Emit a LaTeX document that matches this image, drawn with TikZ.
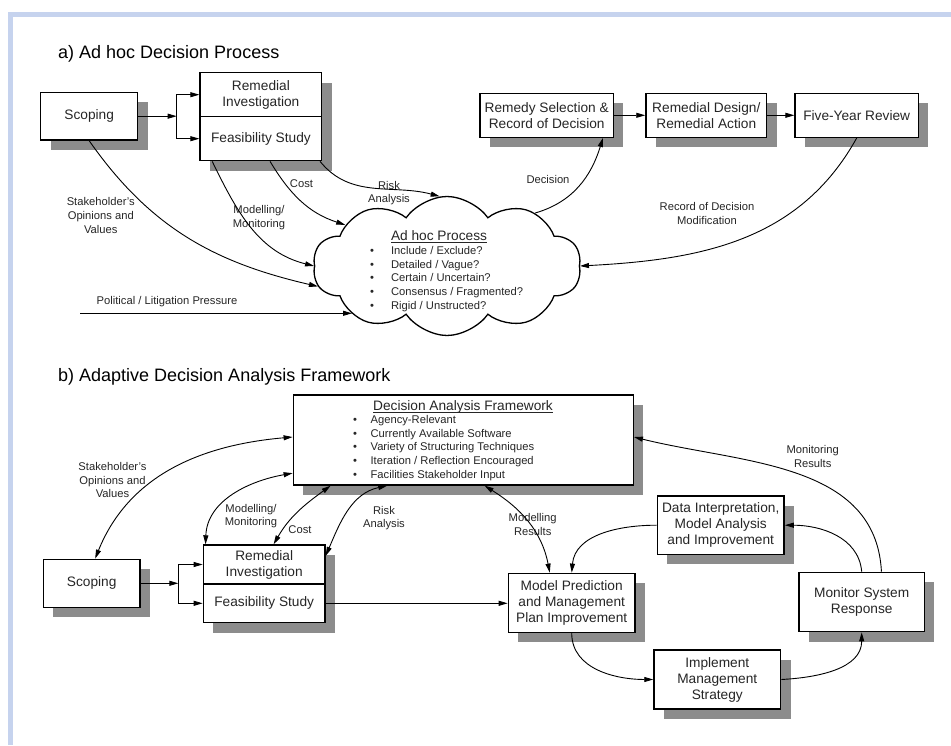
\documentclass[tikz,border=0pt]{standalone}
\usepackage{fontspec}
\setmainfont{Liberation Sans}
\usetikzlibrary{arrows.meta,shapes.symbols,shadows}
\definecolor{frameblue}{RGB}{198,211,238}

\begin{document}
\begin{tikzpicture}[x=1pt,y=1pt,
  box/.style={draw,line width=1.4pt,fill=white,align=center,inner sep=2pt,text=black!85,
    font=\fontsize{13.7}{16}\selectfont,
    drop shadow={shadow xshift=10pt,shadow yshift=-10pt,fill=black!45,opacity=1}},
  lbl/.style={align=center,inner sep=0pt,text=black!85,font=\fontsize{11.2}{13.6}\selectfont},
  hd/.style={inner sep=0pt,text=black!85,font=\fontsize{13.7}{16}\selectfont},
  ttl/.style={anchor=base west,inner sep=0pt,font=\fontsize{18}{21}\selectfont},
  arr/.style={line width=0.9pt,-{Triangle[length=9pt,width=5pt]}},
  dbl/.style={line width=0.9pt,{Triangle[length=9pt,width=5pt]}-{Triangle[length=9pt,width=5pt]}}]
\fill[white] (0,0) rectangle (951,745);
\useasboundingbox (0,0) rectangle (951,745);
\fill[frameblue] (8,0) rectangle (13,733);
\fill[frameblue] (8,728) rectangle (951,733);

\node[ttl] (tA) at (58,686) {a) Ad hoc Decision Process};
\node[box,minimum width=97pt,minimum height=47.7pt] (scA) at (89.2,628.8) {Scoping};
\node[box,minimum width=121.7pt,minimum height=44pt] (riA) at (260.9,650.3) {Remedial\\Investigation};
\node[box,minimum width=121.7pt,minimum height=44pt] (fsA) at (260.9,606.3) {Feasibility Study};
\node[box,minimum width=133.3pt,minimum height=44pt] (remA) at (546.7,629.7) {Remedy Selection \&\\Record of Decision};
\node[box,minimum width=120.7pt,minimum height=44pt] (rdA) at (706.3,629.7) {Remedial Design/\\Remedial Action};
\node[box,minimum width=123.3pt,minimum height=44pt] (fyA) at (856.7,629.7) {Five-Year Review};
\node[cloud,cloud ignores aspect,cloud puffs=10,cloud puff arc=110,draw,line width=1.3pt,fill=white,
  minimum width=268pt,minimum height=139pt,inner sep=0pt] (cl) at (447,479) {};
\node[hd] (clH) at (439,508) {\underline{\raisebox{0pt}[\height][0pt]{Ad hoc Process}}};
\node[lbl,anchor=west,align=left] (clL) at (370,466) {\textbullet\hspace{17pt}Include / Exclude?\\
  \textbullet\hspace{17pt}Detailed / Vague?\\
  \textbullet\hspace{17pt}Certain / Uncertain?\\
  \textbullet\hspace{17pt}Consensus / Fragmented?\\
  \textbullet\hspace{17pt}Rigid / Unstructed?};
\coordinate (jA) at (176.7,628.8);
\coordinate (pl) at (80,431.7);

\node[lbl] (stA) at (100.8,529.5) {Stakeholder's\\Opinions and\\Values};
\node[lbl] (moA) at (259,527.5) {Modelling/\\Monitoring};
\node[lbl] (coA) at (301.5,561.7) {Cost};
\node[lbl] (rkA) at (389,551.7) {Risk\\Analysis};
\node[lbl] (deA) at (548,565.7) {Decision};
\node[lbl] (rmA) at (707,531.7) {Record of Decision\\Modification};
\node[lbl] (poA) at (167,443) {Political / Litigation Pressure};

\draw[arr] (scA.east) -- (jA);
\draw[arr] (jA) |- (riA.west);
\draw[arr] (jA) |- (fsA.west);
\draw[arr] (remA.east) -- (rdA.west);
\draw[arr] (rdA.east) -- (fyA.west);
\draw[arr] (scA.south) to[out=-55,in=167] (cl.189);
\draw[arr] (fsA.205.6) to[out=-64,in=166] (cl.180);
\draw[arr] (fsA.292.5) to[out=-59,in=162] (cl.158);
\draw[arr] (fsA.339) to[out=-51,in=165] (cl.96);
\draw[arr] (pl) -- (pl -| cl.207);
\draw[arr] (cl.31) to[out=16,in=253] (remA.338);
\draw[arr] (fyA.south) to[out=241,in=3] (cl.0);

\node[ttl] (tB) at (58,363.3) {b) Adaptive Decision Analysis Framework};
\node[box,minimum width=340pt,minimum height=90pt] (dfB) at (463.3,305) {};
\node[hd] (dfH) at (463,338) {\underline{\raisebox{0pt}[\height][0pt]{Decision Analysis Framework}}};
\node[lbl,anchor=west,align=left] (dfL) at (353,297) {\textbullet\hspace{13.5pt}Agency-Relevant\\
  \textbullet\hspace{13.5pt}Currently Available Software\\
  \textbullet\hspace{13.5pt}Variety of Structuring Techniques\\
  \textbullet\hspace{13.5pt}Iteration / Reflection Encouraged\\
  \textbullet\hspace{13.5pt}Facilities Stakeholder Input};
\node[box,minimum width=96.7pt,minimum height=48pt] (scB) at (91.7,161.7) {Scoping};
\node[box,minimum width=121.7pt,minimum height=39pt] (riB) at (264.2,180.5) {Remedial\\Investigation};
\node[box,minimum width=121.7pt,minimum height=38.7pt] (fsB) at (264.2,141.7) {Feasibility Study};
\node[box,minimum width=126.7pt,minimum height=59pt] (mpB) at (571.7,142.2) {Model Prediction\\and Management\\Plan Improvement};
\node[box,minimum width=126.7pt,minimum height=58.3pt] (diB) at (720.7,219.8) {Data Interpretation,\\Model Analysis\\and Improvement};
\node[box,minimum width=125.3pt,minimum height=59.4pt] (msB) at (861.7,143) {Monitor System\\Response};
\node[box,minimum width=126.7pt,minimum height=59pt] (imB) at (717.3,65.5) {Implement\\Management\\Strategy};
\coordinate (jB) at (178.3,161.7);

\node[lbl] (stB) at (112.5,265) {Stakeholder's\\Opinions and\\Values};
\node[lbl] (moB) at (251,228.7) {Modelling/\\Monitoring};
\node[lbl] (coB) at (300,215) {Cost};
\node[lbl] (rkB) at (384,227) {Risk\\Analysis};
\node[lbl] (mrB) at (532.7,220.3) {Modelling\\Results};
\node[lbl] (mnB) at (812.7,288.3) {Monitoring\\Results};

\draw[arr] (scB.east) -- (jB);
\draw[arr] (jB) |- (riB.west);
\draw[arr] (jB) |- (fsB.west);
\draw[arr] (fsB.east) -- (fsB.east -| mpB.west);
\draw[dbl] (scB.82) to[out=68,in=185] (dfB.179);
\draw[dbl] (riB.161) to[out=88,in=190] (dfB.191);
\draw[dbl] (riB.65) to[out=60,in=216] (dfB.199);
\draw[dbl] (riB.8) to[out=67,in=192] (dfB.211.5);
\draw[dbl] (dfB.295) to[out=-32,in=101] (mpB.126);
\draw[arr] (msB.57) to[out=93,in=-14] (dfB.1);
\draw[arr] (msB.north) to[out=95,in=0] (diB.east);
\draw[arr] (diB.west) to[out=180,in=85] (mpB.north);
\draw[arr] (mpB.south) to[out=-90,in=180] (imB.west);
\draw[arr] (imB.east) to[out=3,in=-90] (msB.south);
\end{tikzpicture}
\end{document}
